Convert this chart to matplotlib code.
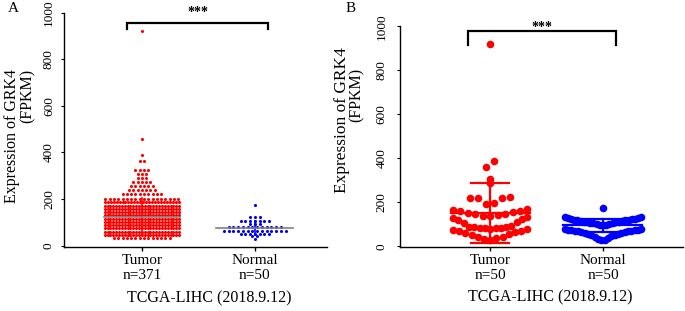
import numpy as np
import matplotlib
matplotlib.use("Agg")
import matplotlib.pyplot as plt

plt.rcParams['font.family'] = ['Liberation Serif', 'DejaVu Serif']

# panel A: TCGA-LIHC, all samples (rows)
tumor_a_levels = [35, 48, 60, 74, 88, 102, 116, 130, 144, 158, 172, 186, 200,
                  222, 239, 256, 274, 291, 308, 325, 365, 388, 460, 920]
tumor_a_counts = [14, 27, 27, 27, 27, 27, 27, 27, 27, 27, 27, 26, 18,
                  10, 7, 6, 5, 3, 3, 4, 2, 1, 1, 1]
normal_a_levels = [27, 41, 51, 65, 82, 91, 105, 124, 175]
normal_a_counts = [1, 2, 7, 14, 12, 3, 7, 3, 1]
tumor_a_stats = (125, 80)    # mean, sd
normal_a_stats = (77, 30)

# panel B: 50 vs 50
tumor_b = [30, 33, 37, 41, 45, 50, 55, 60, 64, 68, 72, 75, 78,
           81, 82, 83, 84, 85, 86, 87, 88, 92, 105, 110, 118, 125, 130, 133,
           138, 140, 142, 145, 148, 150, 155, 160, 163, 165, 168,
           192, 195, 218, 220, 222, 225, 290, 305, 362, 390, 920]
normal_b = [28, 31, 34, 38, 42, 46, 50, 53, 56, 58, 60, 62, 64, 66, 68, 69,
            70, 72, 73, 74, 75, 76, 77, 78,
            95, 97, 99, 101, 103, 105, 106, 108, 110, 111, 112, 113, 115, 116,
            118, 119, 120, 122, 123, 125, 126, 128, 130, 132, 134, 175]
tumor_b_stats = (153, 137)
normal_b_stats = (95, 30)

groups = ["Tumor", "Normal"]
n_a = ["n=371", "n=50"]
n_b = ["n=50", "n=50"]
source = "TCGA-LIHC (2018.9.12)"


def swarm_x(vals, center, binw, origin, dx, maxhalf):
    vals = np.asarray(vals, float)
    xs = np.zeros_like(vals)
    bins = np.floor((vals - origin) / binw)
    for b in np.unique(bins):
        idx = np.where(bins == b)[0]
        idx = idx[np.argsort(vals[idx], kind='stable')]
        n = len(idx)
        step = dx if n < 2 else min(dx, 2 * maxhalf / (n - 1))
        pos = (np.arange(n) - (n - 1) / 2) * step
        pos = pos[np.argsort(np.abs(pos), kind='stable')]
        xs[idx] = center + pos
    return xs


def style(ax, ylim, xlim, nlabels, ypad):
    ax.set_ylim(*ylim)
    ax.set_xlim(*xlim)
    for s in ['top', 'right']:
        ax.spines[s].set_visible(False)
    for s in ['left', 'bottom']:
        ax.spines[s].set_linewidth(1.0)
    ax.set_yticks([0, 200, 400, 600, 800, 1000])
    ax.tick_params(axis='y', length=2.5, width=0.8, pad=ypad, labelsize=9.5,
                   labelrotation=90)
    for lab in ax.get_yticklabels():
        lab.set_va('center')
    ax.set_xticks([0, 1])
    ax.set_xticklabels([g + "\n" + n for g, n in zip(groups, nlabels)],
                       fontsize=11, linespacing=1.25)
    ax.tick_params(axis='x', length=3, width=1.0, pad=2)


def bracket(ax, x0, x1, ytop, ybot, ystar):
    ax.plot([x0, x0, x1, x1], [ybot, ytop, ytop, ybot], color='black',
            lw=1.6, clip_on=False, solid_joinstyle='miter')
    ax.text((x0 + x1) / 2, ystar, "***", ha='center', va='center',
            fontsize=10, fontweight='bold', clip_on=False)


def sd_bar(ax, x, stats, color, mean_half, cap_half, lw, mean_color=None):
    m, sd = stats
    mc = mean_color or color
    ax.plot([x, x], [m - sd, m + sd], color=color, lw=lw, zorder=3)
    if cap_half > 0:
        ax.plot([x - cap_half, x + cap_half], [m - sd] * 2, color=color, lw=lw, zorder=3)
        ax.plot([x - cap_half, x + cap_half], [m + sd] * 2, color=color, lw=lw, zorder=3)
    ax.plot([x - mean_half, x + mean_half], [m, m], color=mc, lw=lw, zorder=4)


fig = plt.figure(figsize=(6.85, 3.11), dpi=100)
W, H = 685.0, 311.0
axA = fig.add_axes([64 / W, 1 - 247 / H, (327 - 64) / W, (247 - 12.7) / H])
axB = fig.add_axes([400 / W, 1 - 247 / H, (683 - 400) / W, (247 - 26.3) / H])

# ---- A
ta = np.repeat(tumor_a_levels, tumor_a_counts)
na = np.repeat(normal_a_levels, normal_a_counts)
axA.scatter(swarm_x(ta, 0, 5, 0, 0.038, 0.33), ta, s=5, color='#ff0000',
            linewidths=0, zorder=2)
axA.scatter(swarm_x(na, 1, 5, 0, 0.042, 0.33), na, s=5, color='#0000ff',
            linewidths=0, zorder=2)
sd_bar(axA, 0, tumor_a_stats, '#ff0000', 0.34, 0, 1.2, mean_color='#808080')
sd_bar(axA, 1, normal_a_stats, '#0000ff', 0.34, 0, 1.2, mean_color='#808080')
style(axA, (-5.6, 1000), (-0.69, 1.64), n_a, 4)
bracket(axA, -0.13, 1.115, 956, 932, 1002)
axA.text(0.6, -225, source, ha='center', va='center', fontsize=11.5)

# ---- B
axB.scatter(swarm_x(tumor_b, 0, 55, 25, 0.071, 0.33), tumor_b, s=30,
            color='#ff0000', linewidths=0, zorder=2)
axB.scatter(swarm_x(normal_b, 1, 55, 25, 0.071, 0.34), normal_b, s=30,
            color='#0000ff', linewidths=0, zorder=2)
sd_bar(axB, 0, tumor_b_stats, '#ff0000', 0.35, 0.17, 1.6)
sd_bar(axB, 1, normal_b_stats, '#0000ff', 0.35, 0.17, 1.6)
style(axB, (-2.7, 1000), (-0.80, 1.71), n_b, 6.5)
bracket(axB, -0.2, 1.115, 977, 914, 995)
axB.text(0.53, -233, source, ha='center', va='center', fontsize=11.5)

# y labels and panel letters (figure pixel coords)
def ftext(x, y, s, **kw):
    fig.text(x / W, 1 - y / H, s, **kw)

ftext(12, 136, "Expression of GRK4", rotation=90, ha='center', va='center', fontsize=11.5)
ftext(28, 96, "(FPKM)", rotation=90, ha='center', va='center', fontsize=11.5)
ftext(342, 120, "Expression of GRK4", rotation=90, ha='center', va='center', fontsize=12.5)
ftext(357, 95, "(FPKM)", rotation=90, ha='center', va='center', fontsize=11.5)
ftext(13, 8, "A", ha='center', va='center', fontsize=11)
ftext(351, 8, "B", ha='center', va='center', fontsize=11)

fig.savefig("out.png", dpi=100)
